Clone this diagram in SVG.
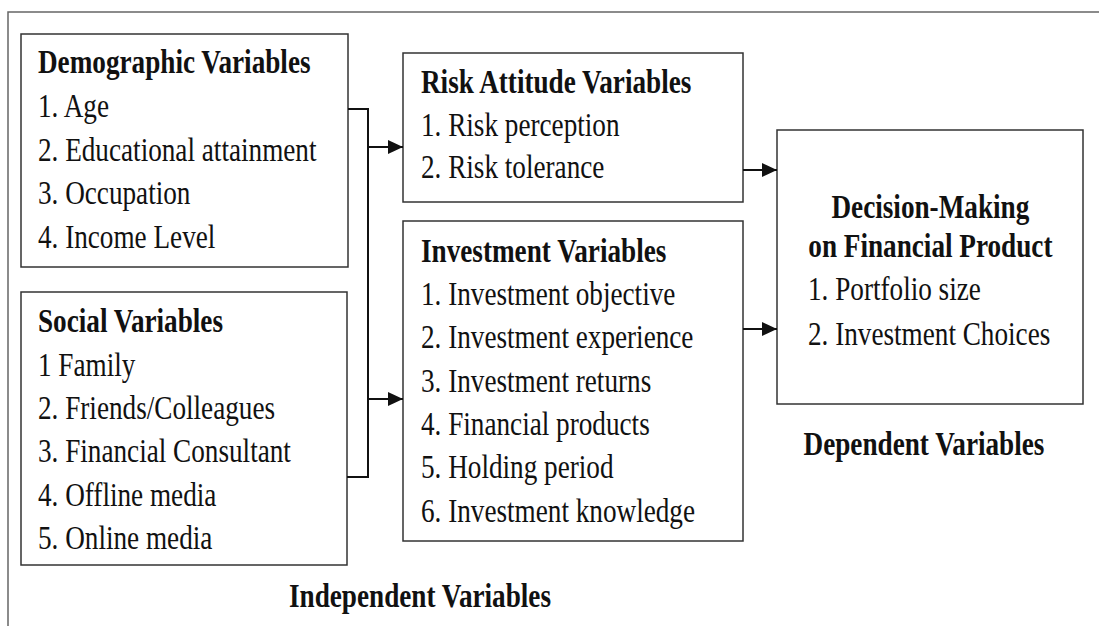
<svg xmlns="http://www.w3.org/2000/svg" width="1099" height="626" viewBox="0 0 1099 626">
<style>
.box{fill:#fff;stroke:#333;stroke-width:1.5}
.frame{fill:none;stroke:#666;stroke-width:1.5}
.con{fill:none;stroke:#111;stroke-width:2}
text{font-family:'Liberation Serif','Times New Roman',serif;font-size:34px;fill:#111}
.b{font-weight:bold}
.m{text-anchor:middle}
</style>
<defs>
<marker id="arr" markerUnits="userSpaceOnUse" markerWidth="15" markerHeight="14" refX="15" refY="7" orient="auto">
<path d="M0,0 L15,7 L0,14 z" fill="#111"/>
</marker>
</defs>
<rect width="1099" height="626" fill="#fff"/>
<path class="frame" d="M8,626 V12 H1099"/>
<g id="demographic">
<rect class="box" x="21" y="34" width="327" height="233"/>
<g transform="scale(0.8 1)">
<text class="b" x="47.5" y="73">Demographic Variables</text>
<text x="47.5" y="117">1. Age</text>
<text x="47.5" y="161">2. Educational attainment</text>
<text x="47.5" y="204">3. Occupation</text>
<text x="47.5" y="248">4. Income Level</text>
</g>
</g>
<g id="social">
<rect class="box" x="21" y="292" width="326" height="273"/>
<g transform="scale(0.8 1)">
<text class="b" x="47.5" y="332">Social Variables</text>
<text x="47.5" y="376">1 Family</text>
<text x="47.5" y="419">2. Friends/Colleagues</text>
<text x="47.5" y="462">3. Financial Consultant</text>
<text x="47.5" y="506">4. Offline media</text>
<text x="47.5" y="549">5. Online media</text>
</g>
</g>
<g id="risk">
<rect class="box" x="403" y="53" width="340" height="149"/>
<g transform="scale(0.8 1)">
<text class="b" x="526.25" y="93">Risk Attitude Variables</text>
<text x="526.25" y="136">1. Risk perception</text>
<text x="526.25" y="178">2. Risk tolerance</text>
</g>
</g>
<g id="investment">
<rect class="box" x="403" y="221" width="340" height="320"/>
<g transform="scale(0.8 1)">
<text class="b" x="526.25" y="262">Investment Variables</text>
<text x="526.25" y="305">1. Investment objective</text>
<text x="526.25" y="348">2. Investment experience</text>
<text x="526.25" y="392">3. Investment returns</text>
<text x="526.25" y="435">4. Financial products</text>
<text x="526.25" y="478">5. Holding period</text>
<text x="526.25" y="522">6. Investment knowledge</text>
</g>
</g>
<g id="decision">
<rect class="box" x="777" y="130" width="306" height="274"/>
<g transform="scale(0.8 1)">
<text class="b m" x="1163" y="218">Decision-Making</text>
<text class="b m" x="1163" y="257">on Financial Product</text>
<text x="1010" y="300">1. Portfolio size</text>
<text x="1010" y="345">2. Investment Choices</text>
</g>
</g>
<g id="labels" transform="scale(0.8 1)">
<text class="b m" x="525" y="607">Independent Variables</text>
<text class="b m" x="1155" y="455">Dependent Variables</text>
</g>
<g id="connectors">
<path class="con" d="M348,109 H368 V477 H347"/>
<path class="con" d="M368,147 H403" marker-end="url(#arr)"/>
<path class="con" d="M368,399 H403" marker-end="url(#arr)"/>
<path class="con" d="M743,170 H777" marker-end="url(#arr)"/>
<path class="con" d="M743,329 H777" marker-end="url(#arr)"/>
</g>
</svg>
